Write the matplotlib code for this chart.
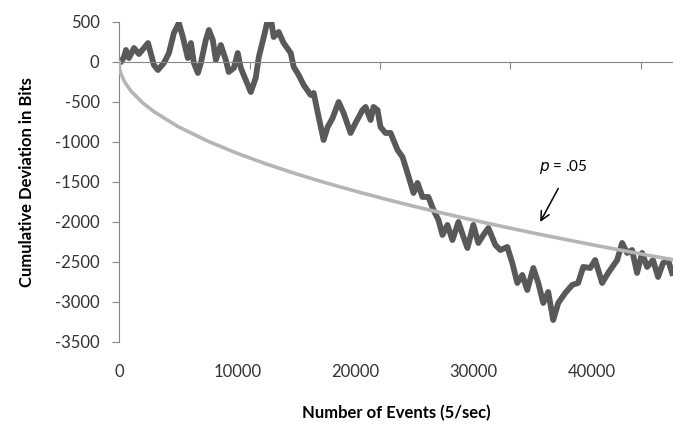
import matplotlib
matplotlib.use('Agg')
import matplotlib.pyplot as plt
import numpy as np

plt.rcParams['font.family'] = ['Lato', 'DejaVu Sans']

# cumulative deviation
events = [0, 170, 420, 590, 840, 1270, 1690, 2110, 2450, 2950, 3290, 3800, 4220, 4640,
          5060, 5400, 5820, 6080, 6330, 6670, 6920, 7340, 7600, 7930, 8190, 8610, 9030,
          9280, 9710, 10040, 10300, 10720, 11140, 11560, 11820, 12240, 12580, 12830,
          13080, 13500, 13920, 14520, 14770, 15190, 15610, 16200, 16460, 16880, 17300,
          17640, 18060, 18570, 18990, 19580, 20000, 20590, 20850, 21270, 21520, 21860,
          22110, 22530, 22960, 23550, 23970, 24390, 24900, 25240, 25660, 26160, 26590,
          27010, 27350, 27770, 28190, 28700, 29120, 29460, 29960, 30380, 30810, 31230,
          31820, 32240, 32830, 33250, 33680, 34100, 34520, 35030, 35450, 35870, 36290,
          36710, 37140, 37730, 38320, 38820, 39250, 39840, 40260, 40850, 41360, 42120,
          42540, 42960, 43380, 43800, 44230, 44650, 45150, 45580, 46000, 46420, 46760]
deviation = [0, 0, 62, 150, 50, 175, 100, 175, 237, -37, -100, -12, 112, 362,
             487, 312, 50, 237, -12, -137, -12, 275, 400, 275, 25, 212, 25,
             -125, -75, 112, -75, -225, -375, -200, 62, 312, 525, 550,
             312, 375, 237, 112, -62, -162, -287, -412, -387, -687, -975,
             -812, -700, -500, -637, -887, -762, -600, -562, -725, -562, -600,
             -812, -887, -887, -1100, -1187, -1387, -1637, -1512, -1687, -1687, -1850,
             -1975, -2162, -2037, -2225, -2000, -2187, -2325, -2037, -2262, -2162, -2075,
             -2287, -2350, -2312, -2512, -2762, -2662, -2850, -2575, -2762, -3012, -2875,
             -3225, -3012, -2887, -2787, -2762, -2562, -2575, -2475, -2762, -2637, -2475,
             -2262, -2387, -2350, -2637, -2387, -2562, -2475, -2687, -2512, -2475, -2637]

# p = .05 envelope
p_events = [0, 50, 100, 200, 500, 1000, 2000, 3000, 5000, 7500, 10000, 12500, 15000,
            17500, 20000, 22500, 25000, 27500, 30000, 32500, 35000, 37500, 40000,
            42500, 45000, 46840]
p_curve = [0, -81, -114, -161, -255, -361, -511, -625, -808, -989, -1142, -1277, -1399,
           -1511, -1615, -1713, -1806, -1894, -1978, -2059, -2137, -2211, -2284,
           -2354, -2423, -2472]

xlabels = [0, 10000, 20000, 30000, 40000]
yticks = [500, 0, -500, -1000, -1500, -2000, -2500, -3000, -3500]
xmarks = [11050, 22100, 33100, 44100]

axis_col = '#868686'
text_col = '#333333'

fig = plt.figure(figsize=(6.73, 4.24), dpi=100)
ax = fig.add_axes([119 / 673, 82 / 424, 554 / 673, 320 / 424])

ax.plot(events, deviation, color='#595959', lw=4.2, solid_joinstyle='round', zorder=2)
ax.plot(p_events, p_curve, color='#b5b5b5', lw=2.6, zorder=3)

ax.set_xlim(0, 46840)
ax.set_ylim(-3500, 500)

for s in ['top', 'right']:
    ax.spines[s].set_visible(False)
ax.spines['left'].set_color(axis_col)
ax.spines['bottom'].set_color(axis_col)
ax.spines['bottom'].set_position(('data', 0))

ax.set_yticks(yticks)
ax.set_yticklabels([str(v) for v in yticks])
ax.tick_params(axis='y', direction='out', length=5, color=axis_col, pad=9,
               labelsize=12, labelcolor=text_col)
ax.set_xticks(xmarks)
ax.tick_params(axis='x', direction='out', length=5, color=axis_col, labelbottom=False)

sec = ax.secondary_xaxis(0)
sec.set_xticks(xlabels)
sec.set_xticklabels([str(v) for v in xlabels])
sec.tick_params(length=0, pad=16, labelsize=12, labelcolor=text_col)
sec.spines['bottom'].set_visible(False)
sec.set_xlabel('Number of Events (5/sec)', fontsize=12, fontweight='bold',
               color='black', labelpad=18)

ax.set_ylabel('Cumulative Deviation in Bits', fontsize=12, fontweight='bold',
              color='black', labelpad=14)

ax.annotate('', xy=(35500, -2030), xytext=(37250, -1550),
            arrowprops=dict(arrowstyle='->', color='black', lw=1.1,
                            mutation_scale=16))
ax.text(37600, -1310, r'$p$ = .05', fontsize=11, color='black', ha='center', va='center')

fig.savefig('out.png', dpi=100)
